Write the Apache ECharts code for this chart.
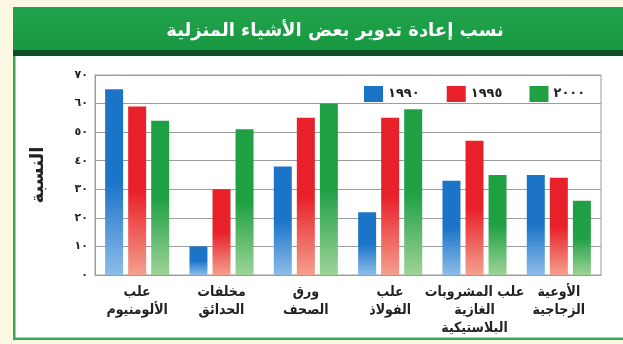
<!DOCTYPE html>
<html lang="ar">
<head>
<meta charset="utf-8">
<title>نسب إعادة تدوير بعض الأشياء المنزلية</title>
<script src="https://cdn.jsdelivr.net/npm/echarts@6/dist/echarts.min.js"></script>
<style>
  html, body { margin: 0; padding: 0; background: #fcf8e2; }
  #chart { width: 623px; height: 344px; }
</style>
</head>
<body>
<div id="chart"></div>
<script>
// Household items (left to right)
const categories = [
  'علب\nالألومنيوم',
  'مخلفات\nالحدائق',
  'ورق\nالصحف',
  'علب\nالفولاذ',
  'علب المشروبات\nالغازية\nالبلاستيكية',
  'الأوعية\nالزجاجية'
];
// Recycling rate (%) per year
const years = ['١٩٩٠', '١٩٩٥', '٢٠٠٠'];
const values1990 = [65, 10, 38, 22, 33, 35];
const values1995 = [59, 30, 55, 55, 47, 34];
const values2000 = [54, 51, 60, 58, 35, 26];
// Y-axis tick labels in Arabic-Indic digits
const yTickLabels = ['٠', '١٠', '٢٠', '٣٠', '٤٠', '٥٠', '٦٠', '٧٠'];

const FONT = "'DejaVu Sans', sans-serif";
const FONT_NARROW = "'DejaVu Sans Condensed', 'DejaVu Sans', sans-serif";
const chart = echarts.init(document.getElementById('chart'), null, { renderer: 'canvas' });

function fade(top, bottom) {
  return new echarts.graphic.LinearGradient(0, 0, 0, 1, [
    { offset: 0, color: top },
    { offset: 0.5, color: top },
    { offset: 1, color: bottom }
  ]);
}

const palette = [
  { solid: '#1b74c8', light: '#8dbce9' },
  { solid: '#e8202a', light: '#f4a08e' },
  { solid: '#1fa043', light: '#9ed398' }
];
const seriesValues = [values1990, values1995, values2000];

chart.setOption({
  backgroundColor: '#fcf8e2',
  animation: false,
  graphic: [
    // white panel with green frame
    { type: 'rect', z: -10, shape: { x: 14, y: 55, width: 609, height: 284 }, style: { fill: '#ffffff' } },
    { type: 'rect', z: -9, shape: { x: 13, y: 55, width: 2.5, height: 285 }, style: { fill: '#3aa85a' } },
    { type: 'rect', z: -9, shape: { x: 13, y: 337.5, width: 610, height: 2.5 }, style: { fill: '#3aa85a' } },
    // title banner
    { type: 'rect', z: -8, shape: { x: 13, y: 7, width: 610, height: 44 },
      style: { fill: new echarts.graphic.LinearGradient(0, 0, 0, 1, [
        { offset: 0, color: '#22a44c' }, { offset: 1, color: '#179840' }]) } },
    { type: 'rect', z: -8, shape: { x: 13, y: 50, width: 610, height: 6 }, style: { fill: '#0b4d27' } }
  ],
  title: {
    text: 'نسب إعادة تدوير بعض الأشياء المنزلية',
    left: 330,
    top: 17,
    textAlign: 'center',
    textStyle: { color: '#ffffff', fontFamily: FONT, fontWeight: 'bold', fontSize: 18 }
  },
  legend: {
    top: 81,
    left: 359,
    itemWidth: 19,
    itemHeight: 16,
    itemGap: 27,
    icon: 'rect',
    textStyle: { fontFamily: FONT, fontWeight: 'bold', fontSize: 13, color: '#222' },
    data: years.map((y, i) => ({ name: y, itemStyle: { color: palette[i].solid } }))
  },
  grid: {
    left: 95, right: 22, top: 75, bottom: 69,
    show: true, borderColor: '#9c9c9c', borderWidth: 1
  },
  xAxis: {
    type: 'category',
    data: categories,
    axisTick: { show: false },
    axisLine: { lineStyle: { color: '#9c9c9c' } },
    axisLabel: {
      interval: 0, margin: 8,
      fontFamily: FONT_NARROW, fontWeight: 'bold', fontSize: 14, lineHeight: 18, color: '#222'
    }
  },
  yAxis: {
    type: 'value',
    min: 0, max: 70, interval: 10,
    name: 'النسبة',
    nameLocation: 'middle',
    nameRotate: 90,
    nameGap: 48,
    nameTextStyle: { fontFamily: FONT, fontWeight: 'bold', fontSize: 18, color: '#222' },
    axisLine: { show: true, lineStyle: { color: '#9c9c9c' } },
    axisTick: { show: false },
    splitLine: { lineStyle: { color: '#9c9c9c', width: 1 } },
    axisLabel: {
      margin: 7,
      fontFamily: FONT, fontWeight: 'bold', fontSize: 11, color: '#222',
      formatter: v => yTickLabels[Math.round(v / 10)]
    }
  },
  series: years.map((y, i) => ({
    name: y,
    type: 'bar',
    data: seriesValues[i],
    barWidth: 18,
    barGap: '28%',
    itemStyle: { color: fade(palette[i].solid, palette[i].light) }
  }))
});
</script>
</body>
</html>
